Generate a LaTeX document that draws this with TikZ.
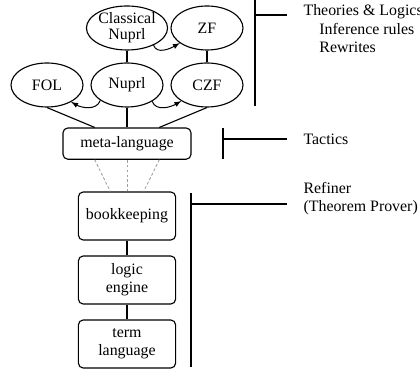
\documentclass[tikz,border=0pt]{standalone}
\usepackage{fontspec}
\setmainfont{Liberation Serif}
\usetikzlibrary{shapes.geometric,calc}

\begin{document}
\begin{tikzpicture}[font=\fontsize{11.3}{13}\selectfont,line width=0.8pt,
    theory/.style={draw,ellipse,minimum width=1.8cm,minimum height=1.1cm,inner sep=0pt,align=center},
    layer/.style={draw,rounded corners=0.12cm,minimum width=2.43cm,minimum height=1.2cm,inner sep=0pt,align=center},
    embed/.style={-latex,line width=0.7pt},
    ghost/.style={gray!75,line width=0.6pt,dash pattern=on 2pt off 1.5pt},
    label/.style={anchor=north west,align=left,inner sep=0pt}]

            \useasboundingbox (0,0) rectangle (10.5,9.3);

            % theories
            \node[theory,font=\fontsize{11.3}{11.5}\selectfont] (classical) at (3.175,8.6) {Classical\\Nuprl};
            \node[theory] (zf) at (5.175,8.6) {ZF};
            \node[theory] (fol) at (1.175,7.175) {FOL};
            \node[theory] (nuprl) at (3.175,7.175) {Nuprl};
            \node[theory] (czf) at (5.175,7.175) {CZF};

            % prover layers
            \node[layer,minimum width=3.2cm,minimum height=0.78cm] (meta) at (3.175,5.71) {meta-language};
            \node[layer] (book) at (3.175,3.9) {bookkeeping};
            \node[layer] (engine) at (3.175,2.3) {logic\\engine};
            \node[layer] (term) at (3.175,0.7) {term\\language};

            % embeddings
            \draw[embed] (nuprl.210) to[out=-110,in=-30] (fol.-35);
            \draw[embed] (nuprl.-33) to[out=-70,in=-150] (czf.-148);
            \draw[embed] (classical.-33) to[out=-70,in=-150] (zf.209);

            \draw (classical) -- (nuprl);
            \draw (zf) -- (czf);
            \draw (fol.south) -- ($(meta.north west)!0.25!(meta.north east)$);
            \draw (nuprl) -- (meta);
            \draw (czf.south) -- ($(meta.north west)!0.75!(meta.north east)$);

            \draw[ghost] ($(meta.south west)!0.25!(meta.south east)$) -- ($(book.north west)!0.33!(book.north east)$);
            \draw[ghost] (meta) -- (book);
            \draw[ghost] ($(meta.south west)!0.75!(meta.south east)$) -- ($(book.north west)!0.67!(book.north east)$);

            \draw (book) -- (engine);
            \draw (engine) -- (term);

            % brackets
            \draw (6.375,9.3) -- (6.375,6.65);
            \draw (6.375,8.925) -- (7.175,8.925);
            \node[label] (theo) at (7.575,9.19) {Theories \& Logics\\\hspace*{1em}Inference rules\\\hspace*{1em}Rewrites};

            \draw (5.575,6.1) -- (5.575,5.325);
            \draw (5.575,5.825) -- (7.175,5.825);
            \node[label,anchor=west] (tac) at (7.575,5.825) {Tactics};

            \draw (4.775,4.475) -- (4.775,0.125);
            \draw (4.775,4.2) -- (7.175,4.2);
            \node[label] (ref) at (7.575,4.765) {Refiner\\(Theorem Prover)};

        \end{tikzpicture}
\end{document}
